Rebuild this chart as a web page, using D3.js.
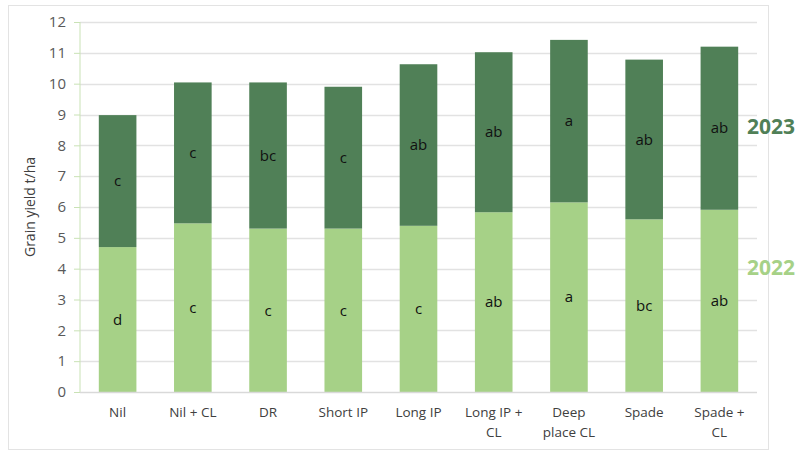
<!DOCTYPE html>
<html>
<head>
<meta charset="utf-8">
<script src="https://cdn.jsdelivr.net/npm/d3@7"></script>
<style>
  html, body { margin: 0; padding: 0; background: #fff; }
  svg { display: block; }
  text { font-family: "Open Sans", "Noto Sans", sans-serif; }
</style>
</head>
<body>
<svg id="chart" width="809" height="454"></svg>
<script>
// Treatments along the x axis (multi-line labels split by "\n")
const categories = ["Nil", "Nil + CL", "DR", "Short IP", "Long IP", "Long IP +\nCL", "Deep\nplace CL", "Spade", "Spade +\nCL"];
// Grain yield (t/ha) per season
const yield2022 = [4.70, 5.47, 5.30, 5.30, 5.39, 5.83, 6.15, 5.60, 5.91];
const yield2023 = [4.28, 4.57, 4.74, 4.60, 5.24, 5.19, 5.27, 5.18, 5.29];
// Significance letters for each season
const letters2022 = ["d", "c", "c", "c", "c", "ab", "a", "bc", "ab"];
const letters2023 = ["c", "c", "bc", "c", "ab", "ab", "a", "ab", "ab"];
const yTicks = [0, 1, 2, 3, 4, 5, 6, 7, 8, 9, 10, 11, 12];
const seriesNames = ["2022", "2023"];

const colors = { "2022": "#a6d187", "2023": "#508057" };

const svg = d3.select("#chart");
const margin = { left: 80, right: 757, top: 22, bottom: 392 };

// chart frame
svg.append("rect")
  .attr("x", 8.5).attr("y", 5.5).attr("width", 760).attr("height", 444)
  .attr("fill", "none").attr("stroke", "#e3e3e3");

const x = d3.scaleBand().domain(categories).range([margin.left, margin.right]).paddingInner(0.5).paddingOuter(0.25);
const y = d3.scaleLinear().domain([0, 12]).range([margin.bottom, margin.top]);

// gridlines
svg.append("g").selectAll("line").data(yTicks.filter(d => d > 0)).join("line")
  .attr("x1", margin.left).attr("x2", margin.right)
  .attr("y1", d => Math.round(y(d)) + 0.5).attr("y2", d => Math.round(y(d)) + 0.5)
  .attr("stroke", "#e2e2e2").attr("stroke-width", 1.3);

// stacked data
const rows = categories.map((c, i) => ({ cat: c, "2022": yield2022[i], "2023": yield2023[i], i }));
const stack = d3.stack().keys(seriesNames)(rows);

svg.append("g").selectAll("g").data(stack).join("g")
  .attr("fill", s => colors[s.key])
  .selectAll("rect").data(s => s).join("rect")
  .attr("x", d => x(d.data.cat))
  .attr("width", x.bandwidth())
  .attr("y", d => y(d[1]))
  .attr("height", d => y(d[0]) - y(d[1]));

// letters inside each segment
const letterSets = { "2022": letters2022, "2023": letters2023 };
stack.forEach(s => {
  svg.append("g").selectAll("text").data(s).join("text")
    .attr("x", d => x(d.data.cat) + x.bandwidth() / 2)
    .attr("y", d => (y(d[0]) + y(d[1])) / 2)
    .attr("dy", "0.35em")
    .attr("text-anchor", "middle")
    .attr("font-size", 15)
    .attr("fill", "#111")
    .text(d => letterSets[s.key][d.data.i]);
});

// y axis
const yAxis = svg.append("g").attr("transform", `translate(${margin.left},0)`)
  .call(d3.axisLeft(y).tickValues(yTicks).tickSize(6).tickPadding(8));
yAxis.select(".domain").attr("stroke", "#c9e2b5").attr("d", `M0,${margin.top}V${margin.bottom}`);
yAxis.selectAll(".tick line").attr("stroke", "#c9e2b5");
yAxis.selectAll(".tick text").attr("font-size", 15).attr("fill", "#595959")
  .style("font-family", "'Open Sans', sans-serif");

// x axis baseline
svg.append("line")
  .attr("x1", margin.left).attr("x2", margin.right)
  .attr("y1", margin.bottom + 0.5).attr("y2", margin.bottom + 0.5)
  .attr("stroke", "#d9d9d9").attr("stroke-width", 1.3);

// category labels
const xl = svg.append("g").selectAll("text").data(categories).join("text")
  .attr("x", d => x(d) + x.bandwidth() / 2)
  .attr("y", 417)
  .attr("text-anchor", "middle")
  .attr("font-size", 13.5)
  .attr("fill", "#404040");
xl.each(function(d) {
  const t = d3.select(this);
  d.split("\n").forEach((line, k) => {
    t.append("tspan").attr("x", x(d) + x.bandwidth() / 2).attr("dy", k === 0 ? 0 : 20).text(line);
  });
});

// y axis title
svg.append("text")
  .attr("transform", `translate(35,${(margin.top + margin.bottom) / 2}) rotate(-90)`)
  .attr("text-anchor", "middle")
  .attr("font-size", 14)
  .attr("fill", "#404040")
  .text("Grain yield t/ha");

// series labels on the right
svg.append("text").attr("x", 747).attr("y", 134).attr("font-size", 21).attr("font-weight", "bold")
  .attr("fill", colors["2023"]).text(seriesNames[1]);
svg.append("text").attr("x", 747).attr("y", 275).attr("font-size", 21).attr("font-weight", "bold")
  .attr("fill", colors["2022"]).text(seriesNames[0]);
</script>
</body>
</html>
